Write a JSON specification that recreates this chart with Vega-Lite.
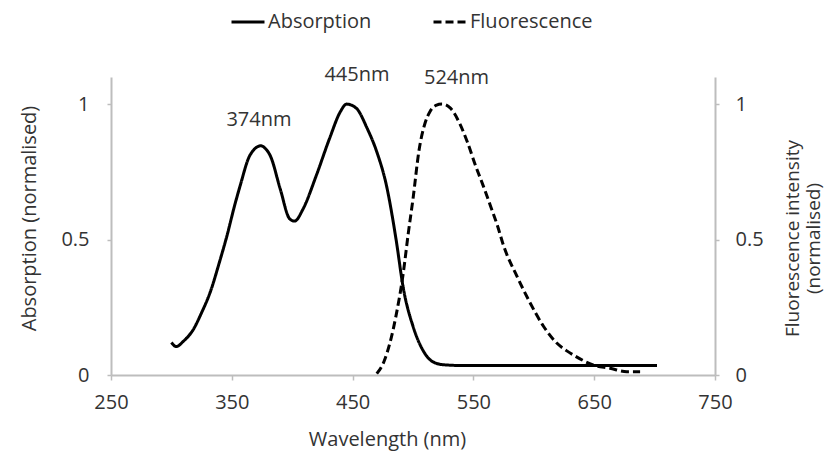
{
  "$schema": "https://vega.github.io/schema/vega-lite/v6.json",
  "width": 604,
  "height": 298,
  "autosize": "none",
  "padding": {"left": 111, "top": 77, "right": 111, "bottom": 84},
  "background": "white",
  "config": {
    "view": {"stroke": null},
    "font": "Open Sans",
    "axis": {
      "grid": false,
      "domainColor": "#bdbdbd",
      "domainWidth": 2,
      "tickColor": "#bdbdbd",
      "tickWidth": 1.5,
      "tickSize": 5,
      "labelFont": "Open Sans",
      "labelFontSize": 20,
      "labelColor": "#333333",
      "labelFlush": false,
      "labelOverlap": false,
      "titleFont": "Open Sans",
      "titleFontSize": 20,
      "titleFontWeight": "normal",
      "titleColor": "#333333"
    }
  },
  "datasets": {
    "spectra": [
      {"wavelength": 300, "value": 0.12, "series": "Absorption"},
      {"wavelength": 304, "value": 0.105, "series": "Absorption"},
      {"wavelength": 310, "value": 0.125, "series": "Absorption"},
      {"wavelength": 318, "value": 0.167, "series": "Absorption"},
      {"wavelength": 325, "value": 0.23, "series": "Absorption"},
      {"wavelength": 332, "value": 0.304, "series": "Absorption"},
      {"wavelength": 340, "value": 0.42, "series": "Absorption"},
      {"wavelength": 346, "value": 0.514, "series": "Absorption"},
      {"wavelength": 352, "value": 0.62, "series": "Absorption"},
      {"wavelength": 357, "value": 0.7, "series": "Absorption"},
      {"wavelength": 365, "value": 0.811, "series": "Absorption"},
      {"wavelength": 374, "value": 0.846, "series": "Absorption"},
      {"wavelength": 378, "value": 0.835, "series": "Absorption"},
      {"wavelength": 382, "value": 0.808, "series": "Absorption"},
      {"wavelength": 390, "value": 0.688, "series": "Absorption"},
      {"wavelength": 398, "value": 0.576, "series": "Absorption"},
      {"wavelength": 402, "value": 0.568, "series": "Absorption"},
      {"wavelength": 409, "value": 0.613, "series": "Absorption"},
      {"wavelength": 420, "value": 0.737, "series": "Absorption"},
      {"wavelength": 431, "value": 0.874, "series": "Absorption"},
      {"wavelength": 440, "value": 0.973, "series": "Absorption"},
      {"wavelength": 445, "value": 1.0, "series": "Absorption"},
      {"wavelength": 453, "value": 0.985, "series": "Absorption"},
      {"wavelength": 462, "value": 0.911, "series": "Absorption"},
      {"wavelength": 470, "value": 0.824, "series": "Absorption"},
      {"wavelength": 478, "value": 0.7, "series": "Absorption"},
      {"wavelength": 486, "value": 0.5, "series": "Absorption"},
      {"wavelength": 492, "value": 0.32, "series": "Absorption"},
      {"wavelength": 500, "value": 0.18, "series": "Absorption"},
      {"wavelength": 508, "value": 0.093, "series": "Absorption"},
      {"wavelength": 516, "value": 0.05, "series": "Absorption"},
      {"wavelength": 525, "value": 0.038, "series": "Absorption"},
      {"wavelength": 540, "value": 0.035, "series": "Absorption"},
      {"wavelength": 600, "value": 0.035, "series": "Absorption"},
      {"wavelength": 650, "value": 0.035, "series": "Absorption"},
      {"wavelength": 702, "value": 0.035, "series": "Absorption"},
      {"wavelength": 470, "value": 0.005, "series": "Fluorescence"},
      {"wavelength": 476, "value": 0.05, "series": "Fluorescence"},
      {"wavelength": 481, "value": 0.12, "series": "Fluorescence"},
      {"wavelength": 486, "value": 0.22, "series": "Fluorescence"},
      {"wavelength": 492, "value": 0.378, "series": "Fluorescence"},
      {"wavelength": 496, "value": 0.52, "series": "Fluorescence"},
      {"wavelength": 500, "value": 0.65, "series": "Fluorescence"},
      {"wavelength": 505, "value": 0.83, "series": "Fluorescence"},
      {"wavelength": 510, "value": 0.93, "series": "Fluorescence"},
      {"wavelength": 514, "value": 0.972, "series": "Fluorescence"},
      {"wavelength": 519, "value": 0.995, "series": "Fluorescence"},
      {"wavelength": 524, "value": 1.0, "series": "Fluorescence"},
      {"wavelength": 531, "value": 0.985, "series": "Fluorescence"},
      {"wavelength": 539, "value": 0.925, "series": "Fluorescence"},
      {"wavelength": 545, "value": 0.86, "series": "Fluorescence"},
      {"wavelength": 552, "value": 0.77, "series": "Fluorescence"},
      {"wavelength": 558, "value": 0.7, "series": "Fluorescence"},
      {"wavelength": 564, "value": 0.626, "series": "Fluorescence"},
      {"wavelength": 570, "value": 0.55, "series": "Fluorescence"},
      {"wavelength": 575, "value": 0.477, "series": "Fluorescence"},
      {"wavelength": 586, "value": 0.365, "series": "Fluorescence"},
      {"wavelength": 597, "value": 0.266, "series": "Fluorescence"},
      {"wavelength": 608, "value": 0.18, "series": "Fluorescence"},
      {"wavelength": 619, "value": 0.118, "series": "Fluorescence"},
      {"wavelength": 627, "value": 0.09, "series": "Fluorescence"},
      {"wavelength": 635, "value": 0.068, "series": "Fluorescence"},
      {"wavelength": 649, "value": 0.037, "series": "Fluorescence"},
      {"wavelength": 663, "value": 0.025, "series": "Fluorescence"},
      {"wavelength": 677, "value": 0.012, "series": "Fluorescence"},
      {"wavelength": 688, "value": 0.012, "series": "Fluorescence"}
    ],
    "peaks": [
      {"wavelength": 372.5, "value": 0.94, "label": "374nm"},
      {"wavelength": 453.6, "value": 1.108, "label": "445nm"},
      {"wavelength": 536, "value": 1.097, "label": "524nm"}
    ]
  },
  "layer": [
    {
      "data": {"name": "spectra"},
      "transform": [{"filter": "datum.series === 'Absorption'"}],
      "mark": {"type": "line", "color": "black", "strokeWidth": 3, "interpolate": "monotone", "clip": false},
      "encoding": {
        "x": {
          "field": "wavelength", "type": "quantitative",
          "scale": {"domain": [250, 750], "nice": false, "zero": false},
          "axis": {"values": [250, 350, 450, 550, 650, 750], "title": "Wavelength (nm)", "labelPadding": 12, "titleX": 276, "titleY": 64, "titleBaseline": "middle"}
        },
        "y": {
          "field": "value", "type": "quantitative",
          "scale": {"domain": [0, 1.1], "nice": false},
          "axis": {"orient": "left", "values": [0, 0.5, 1], "format": "~g", "title": "Absorption (normalised)", "labelPadding": 18, "tickSize": 4, "titleX": -82, "titleY": 141, "titleBaseline": "middle", "titleAngle": 270}
        },
        "strokeDash": {
          "field": "series", "type": "nominal",
          "scale": {"domain": ["Absorption", "Fluorescence"], "range": [[1, 0], [8, 4]]},
          "legend": {
            "title": null, "orient": "none", "direction": "horizontal",
            "legendX": 119, "legendY": -73,
            "symbolType": "stroke", "symbolSize": 1089, "symbolStrokeWidth": 3, "symbolStrokeColor": "black",
            "labelFont": "Open Sans", "labelFontSize": 20, "labelColor": "#333333", "labelOffset": 2, "columnPadding": 55
          }
        }
      }
    },
    {
      "data": {"name": "spectra"},
      "transform": [{"filter": "datum.series === 'Fluorescence'"}],
      "mark": {"type": "line", "color": "black", "strokeWidth": 3, "interpolate": "monotone", "clip": false},
      "encoding": {
        "x": {"field": "wavelength", "type": "quantitative"},
        "y": {
          "field": "value", "type": "quantitative",
          "scale": {"domain": [0, 1.1], "nice": false},
          "axis": {"orient": "right", "values": [0, 0.5, 1], "format": "~g", "title": ["Fluorescence intensity", "(normalised)"], "titleAngle": 270, "titleFontSize": 19, "labelPadding": 16, "tickSize": 4, "titleX": 77, "titleY": 161, "titleBaseline": "middle", "titleLineHeight": 21}
        },
        "strokeDash": {"field": "series", "type": "nominal"}
      }
    },
    {
      "data": {"name": "peaks"},
      "mark": {"type": "text", "font": "Open Sans", "fontSize": 20, "color": "#333333", "clip": false},
      "encoding": {
        "x": {"field": "wavelength", "type": "quantitative"},
        "y": {"field": "value", "type": "quantitative", "scale": {"domain": [0, 1.1], "nice": false}, "axis": null},
        "text": {"field": "label"}
      }
    }
  ],
  "resolve": {"scale": {"y": "independent"}}
}
